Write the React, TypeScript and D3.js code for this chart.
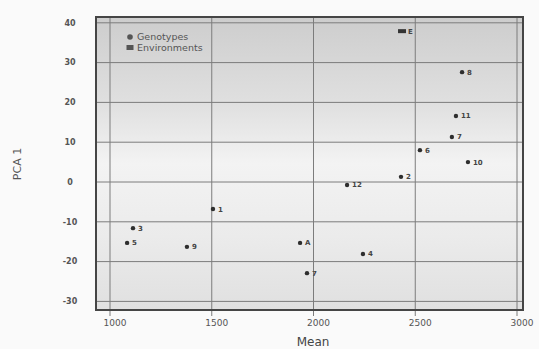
import { useEffect, useRef } from 'react';
import * as d3 from 'd3';

// genotypes (circles)
const genoLabels = ['8', '11', '7', '6', '10', '2', '12', '1', '3', '5', '9', 'A', '4', '7'];
const genoMean = [2730, 2700, 2680, 2523, 2759, 2430, 2165, 1506, 1113, 1084, 1378, 1934, 2243, 1968];
const genoPca = [27.6, 16.6, 11.3, 8.0, 5.0, 1.3, -0.75, -6.8, -11.6, -15.3, -16.3, -15.3, -18.1, -22.9];

// environments (squares)
const envLabels = ['E'];
const envMean = [2435];
const envPca = [37.9];

const xTicks = [1000, 1500, 2000, 2500, 3000];
const yTicks = [40, 30, 20, 10, 0, -10, -20, -30];
const legendItems = ['Genotypes', 'Environments'];

export default function App() {
  const svgRef = useRef<SVGSVGElement>(null);

  useEffect(() => {
    if (!svgRef.current) return;
    const width = 539;
    const height = 349;
    const frame = { left: 96, top: 17, right: 523, bottom: 310 };

    const svg = d3.select(svgRef.current);
    svg.selectAll('*').remove();
    svg.attr('width', width).attr('height', height);

    const x = d3.scaleLinear().domain([1000, 3000]).range([110, 517]);
    const y = d3.scaleLinear().domain([0, 30]).range([182, 62.6]);

    const defs = svg.append('defs');
    const grad = defs
      .append('linearGradient')
      .attr('id', 'bg')
      .attr('x1', 0)
      .attr('y1', 0)
      .attr('x2', 0)
      .attr('y2', 1);
    grad.append('stop').attr('offset', '0%').attr('stop-color', '#cdcdcd');
    grad.append('stop').attr('offset', '30%').attr('stop-color', '#e0e0e0');
    grad.append('stop').attr('offset', '50%').attr('stop-color', '#f3f3f3');
    grad.append('stop').attr('offset', '75%').attr('stop-color', '#ebebeb');
    grad.append('stop').attr('offset', '100%').attr('stop-color', '#e0e0e0');

    svg.append('rect').attr('width', width).attr('height', height).attr('fill', '#fafafa');

    svg
      .append('rect')
      .attr('x', frame.left)
      .attr('y', frame.top)
      .attr('width', frame.right - frame.left)
      .attr('height', frame.bottom - frame.top)
      .attr('fill', 'url(#bg)');

    // grid
    svg
      .append('g')
      .selectAll('line')
      .data(xTicks)
      .join('line')
      .attr('x1', (d) => x(d))
      .attr('x2', (d) => x(d))
      .attr('y1', frame.top)
      .attr('y2', frame.bottom + 6)
      .attr('stroke', '#7c7c7c')
      .attr('stroke-width', 1);

    svg
      .append('g')
      .selectAll('line')
      .data(yTicks)
      .join('line')
      .attr('x1', frame.left)
      .attr('x2', frame.right)
      .attr('y1', (d) => y(d))
      .attr('y2', (d) => y(d))
      .attr('stroke', '#7c7c7c')
      .attr('stroke-width', 1);

    svg
      .append('rect')
      .attr('x', frame.left)
      .attr('y', frame.top)
      .attr('width', frame.right - frame.left)
      .attr('height', frame.bottom - frame.top)
      .attr('fill', 'none')
      .attr('stroke', '#454545')
      .attr('stroke-width', 2);

    // tick labels
    svg
      .append('g')
      .selectAll('text')
      .data(xTicks)
      .join('text')
      .attr('x', (d) => x(d) + 5)
      .attr('y', 326)
      .attr('text-anchor', 'middle')
      .style('font-family', 'DejaVu Sans, sans-serif')
      .style('font-size', '9px')
      .attr('fill', '#555')
      .text((d) => d);

    svg
      .append('g')
      .selectAll('text')
      .data(yTicks)
      .join('text')
      .attr('x', 70)
      .attr('y', (d) => y(d))
      .attr('dy', '0.35em')
      .attr('text-anchor', 'middle')
      .style('font-family', 'DejaVu Sans, sans-serif')
      .style('font-size', '8px')
      .style('font-weight', 'bold')
      .attr('fill', '#555')
      .text((d) => d);

    svg
      .append('text')
      .attr('x', 313)
      .attr('y', 346)
      .attr('text-anchor', 'middle')
      .style('font-family', 'DejaVu Sans, sans-serif')
      .style('font-size', '12px')
      .attr('fill', '#444')
      .text('Mean');

    svg
      .append('text')
      .attr('transform', 'translate(21,164) rotate(-90)')
      .attr('text-anchor', 'middle')
      .style('font-family', 'DejaVu Sans, sans-serif')
      .style('font-size', '11px')
      .attr('fill', '#555')
      .text('PCA 1');

    // points
    const g = svg.append('g');
    genoLabels.forEach((label, i) => {
      const px = x(genoMean[i]);
      const py = y(genoPca[i]);
      g.append('circle').attr('cx', px).attr('cy', py).attr('r', 2.2).attr('fill', '#2e2e2e');
      g.append('text')
        .attr('x', px + 5)
        .attr('y', py)
        .attr('dy', '0.35em')
        .style('font-family', 'DejaVu Sans, sans-serif')
        .style('font-size', '7px')
        .style('font-weight', 'bold')
        .attr('fill', '#444')
        .text(label);
    });
    envLabels.forEach((label, i) => {
      const px = x(envMean[i]);
      const py = y(envPca[i]);
      g.append('rect')
        .attr('x', px - 4)
        .attr('y', py - 2)
        .attr('width', 8)
        .attr('height', 4)
        .attr('fill', '#333');
      g.append('text')
        .attr('x', px + 6)
        .attr('y', py)
        .attr('dy', '0.35em')
        .style('font-family', 'DejaVu Sans, sans-serif')
        .style('font-size', '7px')
        .style('font-weight', 'bold')
        .attr('fill', '#444')
        .text(label);
    });

    // legend
    const legend = svg.append('g').attr('transform', 'translate(130,37)');
    legendItems.forEach((label, i) => {
      const row = legend.append('g').attr('transform', `translate(0,${i * 10.5})`);
      if (i === 0) {
        row.append('circle').attr('r', 2.8).attr('fill', '#555');
      } else {
        row.append('rect').attr('x', -3.5).attr('y', -2.5).attr('width', 7).attr('height', 5).attr('fill', '#555');
      }
      row
        .append('text')
        .attr('x', 7)
        .attr('dy', '0.35em')
        .style('font-family', 'DejaVu Sans, sans-serif')
        .style('font-size', '9.5px')
        .attr('fill', '#555')
        .text(label);
    });
  }, []);

  return <svg ref={svgRef} style={{ position: 'absolute', left: 0, top: 0 }}></svg>;
}
